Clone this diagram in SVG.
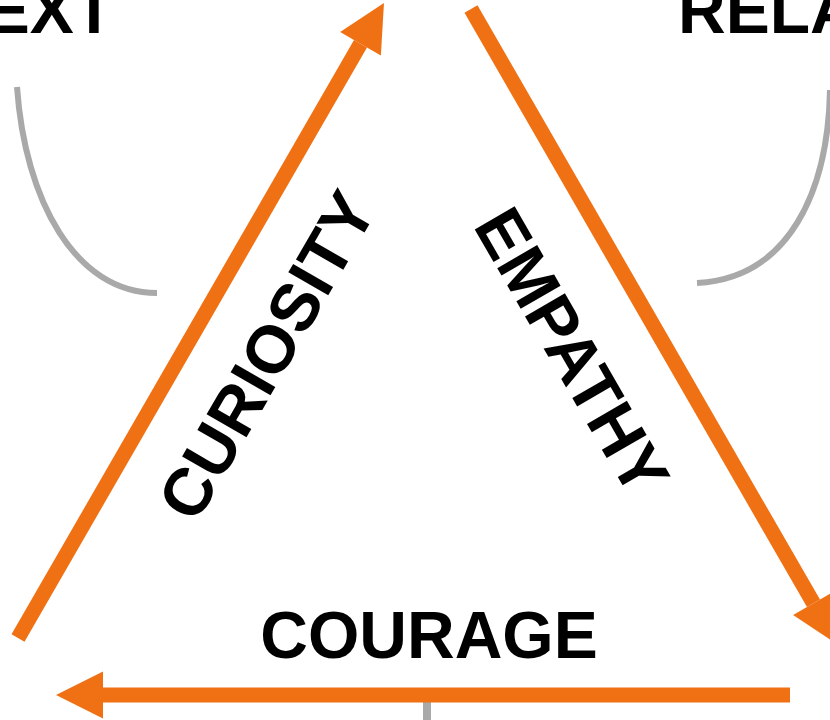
<svg xmlns="http://www.w3.org/2000/svg" width="830" height="720" viewBox="0 0 830 720">
  <style>
    .lbl { font-family: "Liberation Sans", Arial, sans-serif; font-weight: bold; font-size: 66px; fill: #000; }
    .arrow { stroke: #f07114; stroke-width: 15; fill: none; marker-end: url(#head); }
    .gray { stroke: #a9a9a9; stroke-width: 6; fill: none; }
  </style>
  <defs>
    <marker id="head" markerUnits="userSpaceOnUse" markerWidth="48" markerHeight="48" viewBox="0 -24 48 48" refX="0" refY="0" orient="auto" overflow="visible">
      <path d="M0,-23.5 L47,0 L0,23.5 Z" fill="#f07114"/>
    </marker>
  </defs>
  <rect width="830" height="720" fill="#fff"/>
  <g id="context">
    <text class="lbl" x="114" y="33" text-anchor="end">EXT</text>
    <path class="gray" d="M17,87 C25,200 75,293 157,293"/>
  </g>
  <g id="relationship">
    <text class="lbl" x="678" y="33">RELA</text>
    <path class="gray" d="M697,283 C790,278 828,190 830,90"/>
  </g>
  <g id="bottom-link">
    <line class="gray" x1="427" y1="695" x2="427" y2="720" style="stroke-width:8"/>
  </g>
  <g id="connectors">
    <line class="arrow" x1="18" y1="638" x2="360.5" y2="43.7"/>
    <line class="arrow" x1="471" y1="9" x2="813.5" y2="603.3"/>
    <line class="arrow" x1="790" y1="695" x2="103" y2="695"/>
  </g>
  <g id="curiosity">
    <text class="lbl" text-anchor="middle" transform="translate(287,367) rotate(-60)" style="font-size:67px">CURIOSITY</text>
  </g>
  <g id="empathy">
    <text class="lbl" text-anchor="middle" transform="translate(552,363) rotate(60)" style="font-size:67px">EMPATHY</text>
  </g>
  <g id="courage">
    <text class="lbl" x="429" y="658" text-anchor="middle">COURAGE</text>
  </g>
</svg>
